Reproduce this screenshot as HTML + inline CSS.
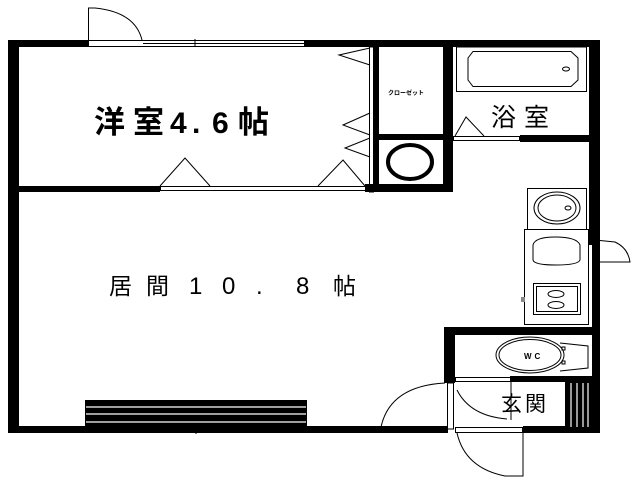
<!DOCTYPE html>
<html><head><meta charset="utf-8"><style>
html,body{margin:0;padding:0;background:#fff;width:640px;height:480px;overflow:hidden}
svg{display:block}
text{font-family:"Liberation Sans","Noto Sans CJK JP",sans-serif;fill:#000}
</style></head><body>
<svg width="640" height="480" viewBox="0 0 640 480" xmlns="http://www.w3.org/2000/svg">
<rect width="640" height="480" fill="#fff"/>
<g fill="#000">
<rect x="8" y="40" width="11" height="393"/>
<rect x="8" y="40" width="80" height="7"/>
<rect x="305" y="40" width="295" height="7"/>
<rect x="589" y="40" width="11" height="205"/>
<rect x="592" y="245" width="8" height="188"/>
<rect x="8" y="426" width="440" height="7"/>
<rect x="523" y="426" width="77" height="7"/>
<rect x="18" y="186" width="142" height="6"/>
<rect x="365" y="184" width="88" height="8"/>
<rect x="443" y="47" width="10" height="145"/>
<rect x="376" y="134" width="70" height="6"/>
<rect x="374" y="47" width="5" height="145"/>
<rect x="520" y="135" width="69" height="7"/>
<rect x="444" y="327" width="156" height="8"/>
<rect x="444" y="327" width="11" height="56"/>
<rect x="510" y="376" width="85" height="6"/>
<rect x="565" y="382" width="27" height="45"/>
<rect x="85" y="400" width="222" height="27"/>
</g>
<g stroke="#fff" stroke-width="1.2">
<line x1="86" y1="407" x2="306" y2="407"/><line x1="86" y1="414" x2="306" y2="414"/><line x1="86" y1="422" x2="306" y2="422"/>
<line x1="571" y1="383" x2="571" y2="427"/><line x1="577" y1="383" x2="577" y2="427"/><line x1="583" y1="383" x2="583" y2="427"/><line x1="588" y1="383" x2="588" y2="427"/>
</g>
<g fill="none" stroke="#000" stroke-width="1">
<rect x="88.5" y="40.5" width="216" height="6"/>
<line x1="143" y1="43.5" x2="304" y2="43.5"/>
<line x1="195" y1="39" x2="195" y2="47"/>
<path d="M88.5 40 V8 H95 Q135 12 142 40"/>
<rect x="86.5" y="427.5" width="220" height="4"/>
<line x1="196" y1="425" x2="196" y2="434"/>
<rect x="160.5" y="186.5" width="205" height="4"/>
<path d="M160 186 L185 158 L210 186"/>
<path d="M318 186 L343 160 L365 186"/>
<rect x="369.5" y="47" width="4" height="145"/>
<path d="M370 48 L339 55 L370 65"/>
<path d="M370 113 L343 125 L370 135"/>
<path d="M370 138 L345 148 L370 157"/>
<rect x="456.5" y="47" width="130" height="44.5"/>
<path d="M473 51.5 H571 L578 58 V80 L571 86.5 H473 L468 80 V58 Z"/>
<ellipse cx="566" cy="69" rx="3.5" ry="2"/>
<rect x="453.5" y="136.5" width="66" height="4"/>
<path d="M455 136 L466 117 L484 136"/>
<rect x="527.5" y="188.5" width="59" height="41"/>
<ellipse cx="557" cy="208" rx="23" ry="16"/>
<ellipse cx="557" cy="208" rx="19" ry="13"/>
<ellipse cx="568" cy="208" rx="3" ry="2"/>
<rect x="524.5" y="229.5" width="64" height="95"/>
<path d="M533 245 Q535 237 555 237 Q577 237 580 245 V260 Q578 265 556 265 Q534 265 533 260 Z"/>
<rect x="533.5" y="283.5" width="47" height="31"/>
<rect x="536.5" y="286.5" width="41" height="25"/>
<ellipse cx="556" cy="294" rx="8" ry="3.5"/>
<ellipse cx="556" cy="305" rx="8" ry="3.5"/>
<rect x="521" y="297" width="4" height="5" fill="#888" stroke="none"/>
<rect x="594.5" y="262" width="4" height="22"/>
<path d="M595 262 H630 Q628 248 615 242 L595 240"/>
<ellipse cx="410" cy="162" rx="22" ry="17" stroke-width="4"/>
<ellipse cx="530" cy="355" rx="34" ry="18"/>
<ellipse cx="530" cy="355" rx="31" ry="15.5"/>
<path d="M560 343 L588 346 V368 L560 371"/>
<rect x="562" y="347" width="3" height="3"/><rect x="562" y="361" width="3" height="3"/>
<rect x="455.5" y="377.5" width="55" height="4"/>
<rect x="455.5" y="427.5" width="67" height="5"/>
<line x1="511" y1="382" x2="511" y2="420"/>
<rect x="447.5" y="383" width="6" height="46"/>
<path d="M457 390 Q470 416 507 419"/>
<path d="M445 383 Q390 386 381 427"/>
<path d="M523 433 V476 H505 Q465 468 457 433"/>
</g>
<g font-weight="bold" font-size="31">
<text x="94" y="133">洋</text><text x="133" y="133">室</text>
<text x="170" y="133" font-size="30">4</text><text x="192" y="133" font-size="30">.</text>
<text x="212" y="133" font-size="30">6</text><text x="238" y="133">帖</text>
</g>
<g font-size="23">
<text x="109" y="294">居</text><text x="146" y="294">間</text>
<text x="189" y="294" font-size="24">1</text><text x="222" y="294" font-size="24">0</text>
<text x="256" y="294" font-size="24">.</text><text x="296" y="294" font-size="24">8</text>
<text x="333" y="294">帖</text>
</g>
<g font-size="25">
<text x="491" y="126">浴</text><text x="524" y="126">室</text>
</g>
<g font-size="21">
<text x="501" y="411">玄</text><text x="525" y="411">関</text>
</g>
<text x="388" y="95" font-size="6" font-weight="bold">クローゼット</text>
<text x="524" y="359" font-size="8" font-weight="bold" letter-spacing="3">WC</text>
</svg>
</body></html>
